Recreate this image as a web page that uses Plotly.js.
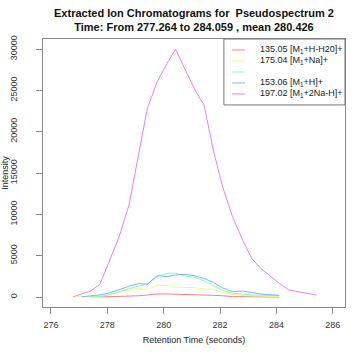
<!DOCTYPE html>
<html>
<head>
<meta charset="utf-8">
<script src="https://cdn.plot.ly/plotly-3.0.1.min.js"></script>
<style>html,body{margin:0;padding:0;background:#fff;}#chart{width:360px;height:355px;}</style>
</head>
<body>
<div id="chart"></div>
<script>
// Retention times (seconds)
const times = [276.79, 277.09, 277.41, 277.74, 278.07, 278.42, 278.77, 279.11, 279.42, 279.77,
  280.12, 280.42, 280.78, 281.11, 281.43, 281.76, 282.09, 282.44, 282.80, 283.12,
  283.44, 283.77, 284.10, 284.44, 284.80, 285.07, 285.42];

// Series intensities (null = no signal recorded)
const ion135 = [null, null, null, 0, 20, 40, 60, 150, 240, 360,
  370, 350, 280, 250, 230, 200, 150, 50, 40, 40,
  30, 20, 0, null, null, null, null];
const ion175 = [30, 30, 50, 100, 250, 600, 850, 1050, 880, 1450,
  1380, 1170, 1150, 1130, 970, 930, 550, 300, 180, 120,
  100, 80, 50, null, null, null, null];
const ionUnlabeled = [null, null, 0, 50, 300, 650, 1000, 1330, 1550, 2500,
  2870, 2870, 2540, 2380, 1970, 1400, 800, 450, 300, 250,
  220, 180, 150, null, null, null, null];
const ion153 = [null, 20, 100, 250, 480, 900, 1300, 1620, 1550, 2580,
  2460, 2660, 2740, 2560, 2230, 1780, 1100, 650, 720, 540,
  360, 280, 200, null, null, null, null];
const ion197 = [40, 330, 725, 1530, 4400, 7300, 11130, 17380, 22820, 26040,
  28270, 29960, 27460, 25040, 23230, 17780, 13340, 9710, 6895, 4680,
  3470, 2540, 1650, 850, 570, 450, 240];

const seriesValues = [ion135, ion175, ionUnlabeled, ion153, ion197];
const legendLabels = [
  "135.05 [M<sub>1</sub>+H-H20]+",
  "175.04 [M<sub>1</sub>+Na]+",
  "",
  "153.06 [M<sub>1</sub>+H]+",
  "197.02 [M<sub>1</sub>+2Na-H]+"
];
const colors = ["#FF8080", "#E6FF80", "#80FFB3", "#80B3FF", "#E680FF"];
const xTicks = [276, 278, 280, 282, 284, 286];
const yTicks = [0, 5000, 10000, 15000, 20000, 25000, 30000];

const FONT = "Liberation Sans, Arial, sans-serif";

const traces = seriesValues.map((vals, i) => ({
  x: times, y: vals, type: "scatter", mode: "lines",
  line: {color: colors[i], width: 1},
  connectgaps: false, hoverinfo: "skip", showlegend: false
}));

// Manual R-style legend (compact rows)
const shapes = [{
  type: "rect", xref: "paper", yref: "paper",
  x0: 0.599, x1: 1.0, y0: 0.754, y1: 1.0,
  line: {color: "#777", width: 1}, fillcolor: "rgba(0,0,0,0)"
}];
const annotations = [];
const rowY = [0.959, 0.918, 0.877, 0.836, 0.795];
legendLabels.forEach((lab, i) => {
  shapes.push({type: "line", xref: "paper", yref: "paper",
    x0: 0.626, x1: 0.669, y0: rowY[i], y1: rowY[i],
    line: {color: colors[i], width: 1}});
  if (lab) annotations.push({xref: "paper", yref: "paper", x: 0.712, y: rowY[i],
    xanchor: "left", yanchor: "middle", showarrow: false, text: lab,
    font: {family: FONT, size: 9, color: "#222"}});
});

const layout = {
  width: 360, height: 355,
  margin: {l: 43, r: 15, t: 39, b: 48, pad: 0},
  paper_bgcolor: "#fff", plot_bgcolor: "#fff",
  font: {family: FONT, size: 9, color: "#222"},
  title: {
    text: "<b>Extracted Ion Chromatograms for  Pseudospectrum 2</b><br><b>Time: From 277.264 to 284.059 , mean 280.426</b>",
    font: {family: FONT, size: 11, color: "#111"},
    x: 0.5, xref: "paper", y: 0.953, yref: "container", yanchor: "top"
  },
  xaxis: {
    range: [275.72, 286.43], tickvals: xTicks, ticktext: xTicks.map(String),
    showgrid: false, zeroline: false, showline: true, mirror: true,
    linecolor: "#888", linewidth: 1, ticks: "outside", ticklen: 6, tickcolor: "#888",
    ticklabelstandoff: 3,
    tickfont: {family: FONT, size: 9, color: "#333"},
    title: {text: "Retention Time (seconds)", font: {family: FONT, size: 9, color: "#222"}, standoff: 7}
  },
  yaxis: {
    range: [-1210, 31210], tickvals: yTicks, ticktext: yTicks.map(String),
    showgrid: false, zeroline: false, showline: true, mirror: true,
    linecolor: "#888", linewidth: 1, ticks: "outside", ticklen: 6, tickcolor: "#888",
    tickangle: -90, ticklabelstandoff: 15,
    tickfont: {family: FONT, size: 9, color: "#333"},
    title: {text: "Intensity", font: {family: FONT, size: 9, color: "#222"}, standoff: 0}
  },
  shapes: shapes, annotations: annotations, hovermode: false
};

Plotly.newPlot("chart", traces, layout, {staticPlot: true, displayModeBar: false});
</script>
</body>
</html>
